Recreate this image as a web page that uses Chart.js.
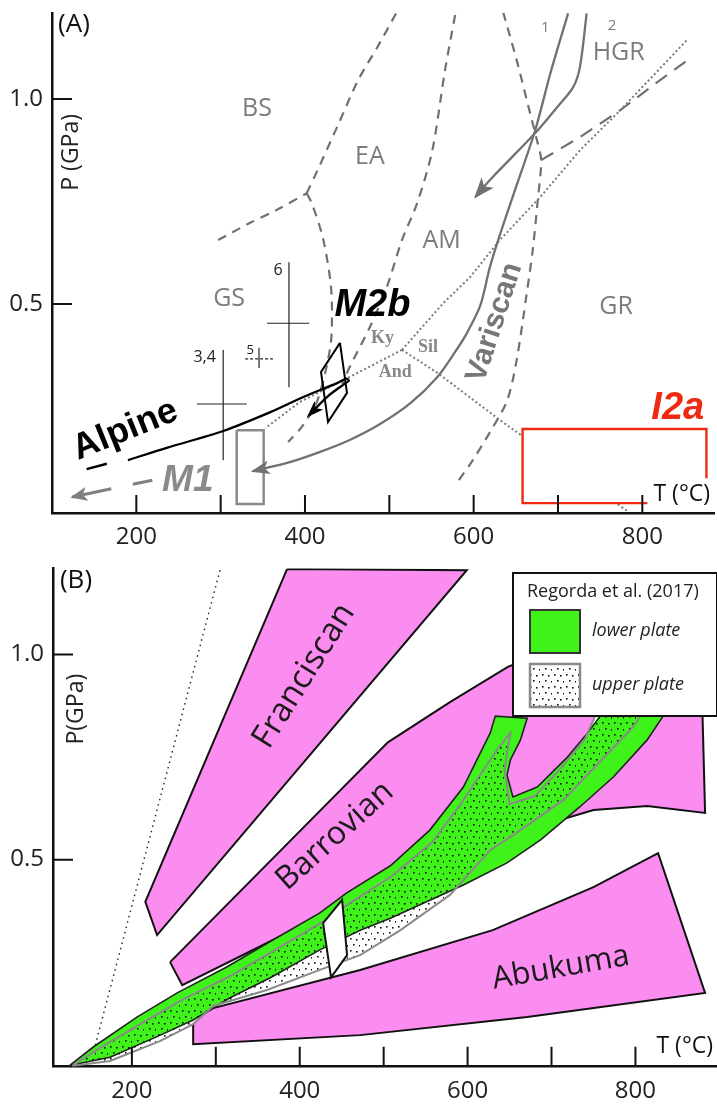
<!DOCTYPE html>
<html>
<head>
<meta charset="utf-8">
<script src="https://cdn.jsdelivr.net/npm/chart.js@4.4.1/dist/chart.umd.min.js"></script>
<style>
  html, body { margin: 0; padding: 0; background: #fff; }
  #wrap { position: relative; width: 717px; height: 1104px; }
  canvas { position: absolute; left: 0; }
  #chartA { top: 0; }
  #chartB { top: 552px; }
</style>
</head>
<body>
<div id="wrap">
  <canvas id="chartA" width="717" height="552"></canvas>
  <canvas id="chartB" width="717" height="552"></canvas>
</div>
<script>
// ---- axes (T in °C, P in GPa) ----
const xTicks = [200, 300, 400, 500, 600, 700, 800];
const xLabelled = [200, 400, 600, 800];
const yTicks = [0.5, 1.0];

// ---- panel A: facies boundaries ----
const gsBs = [[297, 0.656], [335, 0.698], [366, 0.729], [402, 0.770]];
const bsEa = [[402, 0.770], [415, 0.827], [439, 0.936], [463, 1.046], [487, 1.131], [508, 1.209]];
const gsEa = [[402, 0.770], [408, 0.746], [421, 0.663], [430, 0.558], [432, 0.485], [430, 0.395], [415, 0.266], [398, 0.205], [380, 0.163]];
const eaAm = [[578, 1.205], [566, 1.070], [551, 0.875], [533, 0.746], [515, 0.656], [497, 0.541], [477, 0.444], [453, 0.346], [444, 0.305]];
const amGr = [[635, 1.212], [651, 1.095], [667, 0.965], [675, 0.900], [680, 0.851], [676, 0.753], [670, 0.631], [663, 0.527], [651, 0.363], [640, 0.266], [623, 0.200], [599, 0.119], [580, 0.063]];
const grHgr = [[680, 0.851], [726, 0.907], [774, 0.973], [813, 1.034], [857, 1.100]];
// Al2SiO5 triple point
const kySil = [[515, 0.388], [564, 0.502], [596, 0.566], [631, 0.656], [679, 0.761], [726, 0.875], [774, 0.973], [853, 1.144]];
const kyAnd = [[515, 0.388], [453, 0.322], [394, 0.261], [353, 0.197]];
const andSil = [[515, 0.388], [557, 0.332], [631, 0.217], [782, -0.005]];

// ---- panel A: P-T paths ----
const geotherm1 = [[712, 1.209], [691, 1.063], [673, 0.924], [651, 0.790], [631, 0.668], [619, 0.588], [608, 0.497], [592, 0.429], [578, 0.383], [557, 0.322], [525, 0.258], [489, 0.207], [453, 0.168], [418, 0.139], [382, 0.114], [338, 0.092]];
const geotherm2 = [[734, 1.209], [726, 1.078], [718, 1.029], [699, 0.980], [673, 0.917], [619, 0.802], [602, 0.761]];
const m1Retro = [[219, 0.070], [124, 0.029]];
const alpinePath = [[190, 0.119], [236, 0.149], [303, 0.190], [359, 0.236], [398, 0.273], [438, 0.307], [449, 0.318], [452, 0.313], [446, 0.304], [426, 0.273], [404, 0.227]];
const alpineTail = [[141, 0.097], [165, 0.110]];
const m2bBox = [[441.5, 0.405], [419, 0.334], [427.3, 0.212], [449.8, 0.283]];
const m1Box = [[319, 0.192], [351, 0.192], [351, 0.012], [319, 0.012]];
const i2aArea = [[658, 0.195], [876, 0.195], [876, 0.014], [658, 0.014]];
const i2aFrame = [[876, 0.075], [876, 0.195], [658, 0.195], [658, 0.014], [806, 0.014]];
// estimates with error bars: T, P, Tmin, Tmax, Pmin, Pmax
const estimates = [
  [303, 0.256, 272, 331, 0.119, 0.388],
  [345.5, 0.366, 329, 362, 0.344, 0.393],
  [381, 0.453, 355, 405, 0.297, 0.602]
];

// ---- panel A: labels (text, T, P) ----
const faciesLabels = [['BS', 343, 0.975], ['EA', 477, 0.860], ['AM', 562, 0.653], ['GS', 310, 0.512], ['GR', 769, 0.492], ['HGR', 772, 1.112]];
const geothermLabels = [['1', 685, 1.173], ['2', 764, 1.180]];
const mineralLabels = [['Ky', 492, 0.417], ['Sil', 546, 0.393], ['And', 507, 0.334]];
const estimateLabels = [['3,4', 281, 0.370], ['5', 335, 0.388], ['6', 368, 0.582]];
const eventLabels = [['Alpine', 187, 0.192, -22], ['Variscan', 625, 0.455, -72], ['M1', 261, 0.068, 0], ['M2b', 480, 0.497, 0], ['I2a', 842, 0.246, 0]];

// ---- panel B: metamorphic field gradients ----
const franciscan = [[385, 1.209], [599, 1.206], [230, 0.316], [216, 0.397]];
const barrovian = [[245.5, 0.250], [505, 0.786], [579, 0.884], [648, 0.970], [758, 1.060], [880, 1.133], [880, 0.848], [883, 0.614], [814, 0.631], [750, 0.621], [683, 0.580], [555, 0.480], [428, 0.365], [260, 0.194]];
const abukuma = [[273, 0.109], [297, 0.138], [472, 0.231], [630, 0.328], [750, 0.433], [827, 0.516], [883, 0.175], [671, 0.116], [472, 0.072], [273, 0.050]];
const coldGradient = [[305, 1.206], [158, 0.060], [154, 0.023]];
const lowerPlate = [[126, -0.002], [154, 0.043], [206, 0.116], [254, 0.175], [313, 0.238], [368, 0.304], [424, 0.370], [456, 0.419], [508, 0.485], [555, 0.572], [595, 0.677], [627, 0.809], [633, 0.850], [671, 0.845], [663, 0.792], [651, 0.743], [647, 0.706], [654, 0.653], [683, 0.677], [719, 0.750], [743, 0.809], [758, 0.850], [833, 0.850], [814, 0.792], [774, 0.702], [734, 0.629], [687, 0.548], [647, 0.492], [595, 0.438], [555, 0.401], [508, 0.357], [472, 0.328], [424, 0.280], [365, 0.212], [317, 0.163], [273, 0.109], [234, 0.072], [174, 0.018]];
const upperPlate = [[129, -0.003], [162, 0.041], [210, 0.099], [257, 0.155], [317, 0.216], [371, 0.280], [427, 0.348], [462, 0.397], [510, 0.460], [558, 0.543], [591, 0.633], [615, 0.707], [635, 0.768], [651, 0.809], [644, 0.720], [650, 0.635], [680, 0.655], [712, 0.725], [740, 0.795], [752, 0.850], [806, 0.850], [797, 0.823], [774, 0.774], [714, 0.645], [663, 0.572], [627, 0.523], [579, 0.414], [520, 0.328], [472, 0.267], [424, 0.231], [361, 0.182], [297, 0.143], [273, 0.099], [234, 0.058], [174, 0.009]];
const studySample = [[427.8, 0.345], [450.5, 0.402], [456.4, 0.267], [437.3, 0.213]];
const gradientLabels = [['Franciscan', 405, 0.948, -58, 33], ['Barrovian', 442, 0.558, -42, 32], ['Abukuma', 711, 0.236, -10, 31]];
const legendTitle = 'Regorda et al. (2017)';
const legendItems = ['lower plate', 'upper plate'];

// ---- styling ----
const SANS = '"Open Sans", "DejaVu Sans", sans-serif';
const HELV = '"Liberation Sans", Arial, sans-serif';
const GREY = '#707070';
const PINK = '#fb8cf0';
const GREEN = '#3ff21a';
const RED = '#ee2b12';

const pts = arr => arr.map(([x, y]) => ({ x, y }));

function path(arr, color, width, dash, extra) {
  return Object.assign({
    data: pts(arr), showLine: true, borderColor: color, borderWidth: width,
    borderDash: dash || [], pointRadius: 0, fill: false, tension: 0
  }, extra || {});
}

function shape(arr, fill, stroke, width) {
  return {
    data: pts(arr.concat([arr[0]])), showLine: true, fill: 'shape', backgroundColor: fill,
    borderColor: stroke, borderWidth: width, pointRadius: 0, tension: 0, borderJoinStyle: 'miter'
  };
}

// first in list is painted first (at the back)
function stack(list) {
  return list.map((d, i) => Object.assign(d, { order: list.length - i }));
}

function dotPattern() {
  const c = document.createElement('canvas');
  c.width = 12; c.height = 12;
  const g = c.getContext('2d');
  g.fillStyle = '#111';
  [[2, 2], [8, 3], [5, 8], [11, 9]].forEach(([x, y]) => g.fillRect(x, y, 1.6, 1.6));
  return g.createPattern(c, 'repeat');
}
const DOTS = dotPattern();

function text(ctx, t, x, y, font, color, angle, align) {
  ctx.save();
  ctx.translate(x, y);
  if (angle) ctx.rotate(angle * Math.PI / 180);
  ctx.font = font;
  ctx.fillStyle = color;
  ctx.textAlign = align || 'center';
  ctx.textBaseline = 'middle';
  ctx.fillText(t, 0, 0);
  ctx.restore();
}

function axisX(min, max, h) {
  return {
    type: 'linear', min: min, max: max,
    grid: { display: false, drawTicks: false },
    border: { display: true, color: '#111', width: 2.5 },
    afterBuildTicks: s => { s.ticks = xLabelled.map(v => ({ value: v })); },
    afterFit: s => { s.height = h; },
    ticks: { padding: 10, autoSkip: false, maxRotation: 0, color: '#222', font: { family: 'Open Sans', size: 24 }, callback: v => String(v) }
  };
}

function axisY(min, max, w) {
  return {
    type: 'linear', min: min, max: max,
    grid: { display: false, drawTicks: false },
    border: { display: true, color: '#111', width: 2.5 },
    afterBuildTicks: s => { s.ticks = yTicks.map(v => ({ value: v })); },
    afterFit: s => { s.width = w; },
    // small lineHeight keeps the labels from pushing the plot area down
    ticks: { padding: 9, autoSkip: false, color: '#222', font: { family: 'Open Sans', size: 24, lineHeight: 0.3 }, callback: v => v.toFixed(1) }
  };
}

const inwardTicks = {
  id: 'inwardTicks',
  afterDraw(chart, args, opts) {
    const { ctx, chartArea: a, scales: { x, y } } = chart;
    ctx.save();
    ctx.strokeStyle = '#111';
    ctx.lineWidth = 2;
    ctx.beginPath();
    xTicks.forEach(v => {
      const px = x.getPixelForValue(v);
      ctx.moveTo(px, a.bottom);
      ctx.lineTo(px, a.bottom - opts.xLen);
    });
    yTicks.forEach(v => {
      const py = y.getPixelForValue(v);
      ctx.moveTo(a.left, py);
      ctx.lineTo(a.left + 20, py);
    });
    ctx.stroke();
    ctx.restore();
  }
};

const arrowHeads = {
  id: 'arrowHeads',
  afterDatasetsDraw(chart) {
    const ctx = chart.ctx;
    chart.data.datasets.forEach((ds, i) => {
      if (!ds.arrow) return;
      const el = chart.getDatasetMeta(i).data;
      const a = el[el.length - 2], b = el[el.length - 1];
      const [len, half] = ds.arrow;
      ctx.save();
      ctx.translate(b.x, b.y);
      ctx.rotate(Math.atan2(b.y - a.y, b.x - a.x));
      ctx.fillStyle = ds.borderColor;
      ctx.beginPath();
      ctx.moveTo(2, 0);
      ctx.lineTo(-len, -half);
      ctx.lineTo(-len * 0.72, 0);
      ctx.lineTo(-len, half);
      ctx.closePath();
      ctx.fill();
      ctx.restore();
    });
  }
};

// ---------------- panel A ----------------
const datasetsA = [
  path(gsBs, GREY, 2.2, [9, 7], { tension: 0.3 }),
  path(bsEa, GREY, 2.2, [9, 7], { tension: 0.3 }),
  path(gsEa, GREY, 2.2, [9, 7], { tension: 0.3 }),
  path(eaAm, GREY, 2.2, [9, 7], { tension: 0.3 }),
  path(amGr, GREY, 2.2, [9, 7], { tension: 0.3 }),
  path(grHgr, GREY, 2.2, [14, 9]),
  path(kySil, '#7a7a7a', 2, [2, 2.5]),
  path(kyAnd, '#7a7a7a', 2, [2, 2.5]),
  path(andSil, '#7a7a7a', 2, [2, 2.5]),
  shape(i2aArea, '#fff', 'rgba(0,0,0,0)', 0),
  path(i2aFrame, RED, 2.4, [], { borderJoinStyle: 'miter' })
];
estimates.forEach(([t, p, t0, t1, p0, p1], k) => {
  datasetsA.push(path([[t, p0], [t, p1]], '#222', 1.2));
  datasetsA.push(path([[t0, p], [t1, p]], '#222', 1.2, k === 1 ? [3, 2] : []));
});
datasetsA.push(
  shape(m1Box, 'rgba(0,0,0,0)', '#8a8a8a', 2.5),
  path(geotherm1, '#717171', 2.3, [], { tension: 0.3, arrow: [17, 7] }),
  path(geotherm2, '#717171', 2.3, [], { tension: 0.3, arrow: [19, 8] }),
  path(alpineTail, '#000', 2.5),
  path(alpinePath, '#000', 2.3, [], { tension: 0.3, arrow: [15, 6] }),
  shape(m2bBox, 'rgba(0,0,0,0)', '#000', 2),
  path(m1Retro, '#808080', 3, [20, 22, 60], { arrow: [15, 7] })
);

const overlayA = {
  id: 'overlayA',
  afterDatasetsDraw(chart) {
    const { ctx, chartArea: a, scales: { x, y } } = chart;
    const put = (t, tx, py, font, color, angle) => text(ctx, t, x.getPixelForValue(tx), y.getPixelForValue(py), font, color, angle);
    faciesLabels.forEach(([t, tx, py]) => put(t, tx, py, '25px ' + SANS, '#7c7c7c'));
    geothermLabels.forEach(([t, tx, py]) => put(t, tx, py, '15px ' + SANS, '#7c7c7c'));
    mineralLabels.forEach(([t, tx, py]) => put(t, tx, py, 'bold 18px "Liberation Serif", serif', '#888'));
    estimateLabels.forEach(([t, tx, py]) => put(t, tx, py, (t === '5' ? '13px ' : '16px ') + SANS, '#222'));
    const eventStyle = {
      Alpine: ['bold 36px ' + HELV, '#000'],
      Variscan: ['bold 30px ' + HELV, '#777'],
      M1: ['italic bold 37px ' + HELV, '#8a8a8a'],
      M2b: ['italic bold 38px ' + HELV, '#000'],
      I2a: ['italic bold 38px ' + HELV, RED]
    };
    eventLabels.forEach(([t, tx, py, ang]) => put(t, tx, py, eventStyle[t][0], eventStyle[t][1], ang));
    text(ctx, '(A)', a.left + 22, a.top + 12, '26px ' + SANS, '#111');
    text(ctx, 'P (GPa)', a.left + 19, y.getPixelForValue(0.87), '23px ' + SANS, '#222', -90);
    text(ctx, 'T (°C)', a.right - 4, a.bottom - 19, '23px ' + SANS, '#111', 0, 'right');
  }
};

new Chart(document.getElementById('chartA'), {
  type: 'scatter',
  data: { datasets: stack(datasetsA) },
  options: {
    responsive: false, animation: false, events: [],
    layout: { autoPadding: false, padding: { top: 13, right: 3, left: 0, bottom: 0 } },
    plugins: { legend: { display: false }, tooltip: { enabled: false }, inwardTicks: { xLen: 18 } },
    scales: { x: axisX(100, 885, 39), y: axisY(-0.01, 1.21, 52) }
  },
  plugins: [inwardTicks, arrowHeads, overlayA]
});

// ---------------- panel B ----------------
const datasetsB = [
  path(coldGradient, '#222', 1.4, [1.5, 4]),
  shape(franciscan, PINK, '#111', 2),
  shape(barrovian, PINK, '#111', 2),
  shape(abukuma, PINK, '#111', 2),
  shape(upperPlate, '#fff', 'rgba(0,0,0,0)', 0),
  shape(lowerPlate, GREEN, '#222', 1.6),
  shape(upperPlate, DOTS, '#8a8a8a', 2),
  shape(studySample, '#fff', '#111', 2)
];

const overlayB = {
  id: 'overlayB',
  afterDatasetsDraw(chart) {
    const { ctx, chartArea: a, scales: { x, y } } = chart;
    gradientLabels.forEach(([t, tx, py, ang, size]) =>
      text(ctx, t, x.getPixelForValue(tx), y.getPixelForValue(py), size + 'px ' + SANS, '#1a1a1a', ang));
    text(ctx, '(B)', a.left + 23, a.top + 12.5, '26px ' + SANS, '#111');
    text(ctx, 'P(GPa)', a.left + 23, y.getPixelForValue(0.867), '23px ' + SANS, '#222', -90);
    text(ctx, 'T (°C)', a.right - 3, a.bottom - 20, '23px ' + SANS, '#111', 0, 'right');

    // legend box
    const L = a.right - 203, T = a.top + 4.5;
    ctx.save();
    ctx.fillStyle = '#fff';
    ctx.fillRect(L, T, 204, 143);
    ctx.lineWidth = 2;
    ctx.strokeStyle = '#111';
    ctx.strokeRect(L, T, 204, 143);
    ctx.fillStyle = GREEN;
    ctx.fillRect(L + 17, T + 37, 50, 43);
    ctx.strokeStyle = '#333';
    ctx.strokeRect(L + 17, T + 37, 50, 43);
    ctx.fillStyle = DOTS;
    ctx.fillRect(L + 17, T + 91, 50, 43);
    ctx.lineWidth = 2.5;
    ctx.strokeStyle = '#8a8a8a';
    ctx.strokeRect(L + 17, T + 91, 50, 43);
    ctx.restore();
    text(ctx, legendTitle, L + 14, T + 19, '18px ' + SANS, '#222', 0, 'left');
    legendItems.forEach((t, k) => text(ctx, t, L + 79, T + 58 + k * 54, 'italic 18px ' + SANS, '#222', 0, 'left'));
  }
};

new Chart(document.getElementById('chartB'), {
  type: 'scatter',
  data: { datasets: stack(datasetsB) },
  options: {
    responsive: false, animation: false, events: [],
    layout: { autoPadding: false, padding: { top: 16.5, right: 1, left: 0, bottom: 0 } },
    plugins: { legend: { display: false }, tooltip: { enabled: false }, inwardTicks: { xLen: 20 } },
    scales: { x: axisX(106, 896, 37.3), y: axisY(-0.005, 1.21, 53) }
  },
  plugins: [inwardTicks, arrowHeads, overlayB]
});
</script>
</body>
</html>
